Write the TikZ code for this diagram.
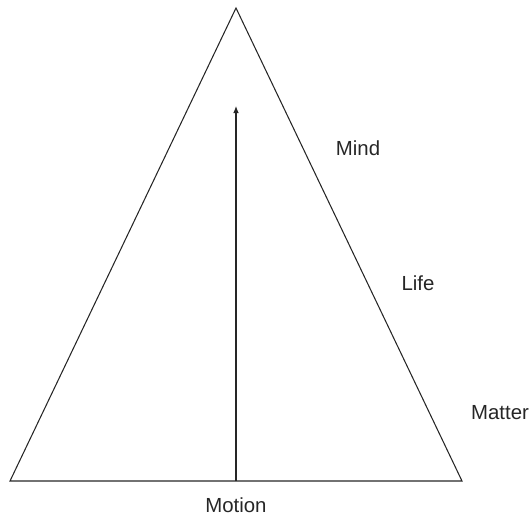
\documentclass[tikz,border=0pt]{standalone}
\usepackage{fontspec}
\setmainfont{Liberation Sans}
\usetikzlibrary{arrows.meta}
\tikzset{
  edge/.style={draw=black!85, line width=0.75pt},
  arrow/.style={-{Latex[length=5pt, width=4pt]}, line width=0.75pt, draw=black!85},
  level/.style={inner sep=0pt, font=\fontsize{14.5}{17}\selectfont, text=black!85},
}
\begin{document}
\begin{tikzpicture}
  \useasboundingbox (0,0) rectangle (13.275,12.95);

  \coordinate (apex) at (5.9,12.75);
  \coordinate (left) at (0.25,0.925);
  \coordinate (right) at (11.55,0.925);
  \coordinate (foot) at (5.9,0.925);
  \coordinate (tip) at (5.9,10.3);

  \draw[edge] (left) -- (apex) -- (right) -- cycle;
  \draw[arrow] (foot) -- (tip);

  \node[level] (mind) at (8.95,9.25) {Mind};
  \node[level] (life) at (10.45,5.875) {Life};
  \node[level] (matter) at (12.5,2.625) {Matter};
  \node[level] (motion) at (5.9,0.325) {Motion};
\end{tikzpicture}
\end{document}
